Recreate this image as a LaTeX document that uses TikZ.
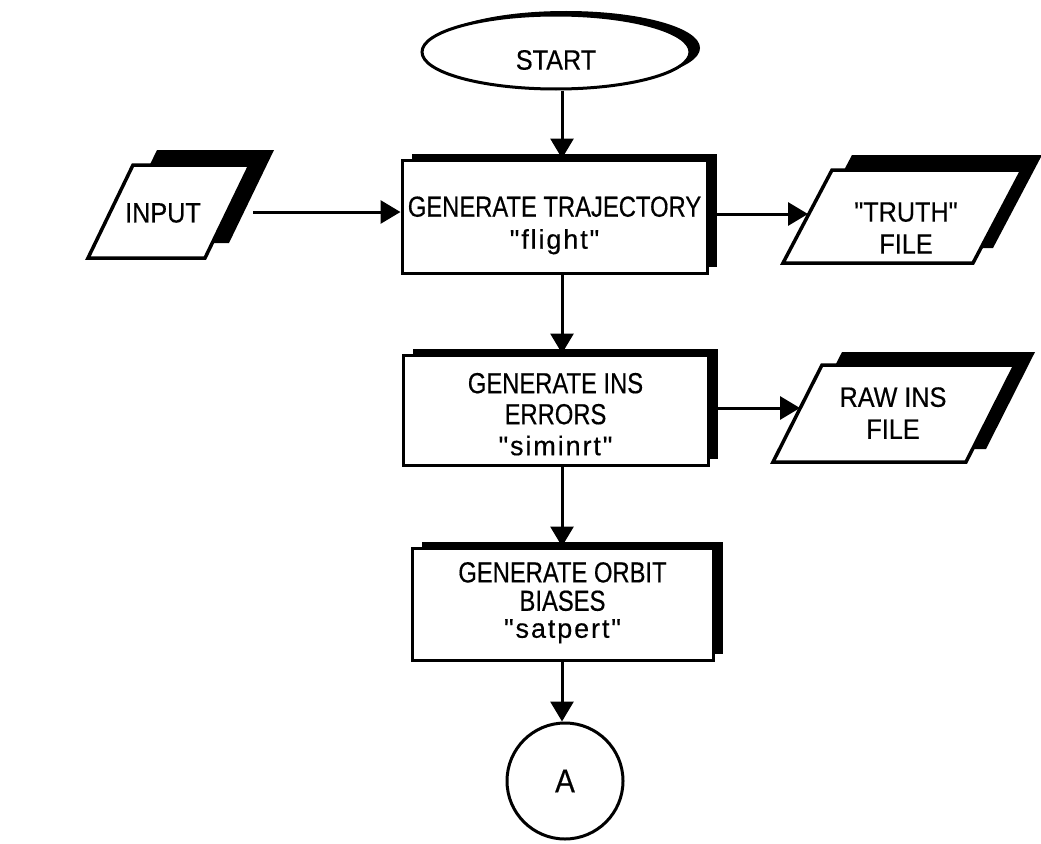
\documentclass[tikz,border=0pt]{standalone}
\usepackage{fontspec}
\newfontfamily\labelfont[FakeStretch=0.9,FakeBold=0.4]{Liberation Sans}
\newfontfamily\boxfont[FakeStretch=0.82,FakeBold=0.4]{Liberation Sans}
\newfontfamily\codefont[LetterSpace=7,FakeBold=0.4]{Liberation Sans}
\usetikzlibrary{shapes.geometric,arrows.meta,shadows,calc}

% lower a node's text without changing its reported size
\newcommand{\droptext}[2]{\raisebox{-#1}[\height][\depth]{#2}}

\begin{document}
\begin{tikzpicture}[x=1pt,y=-1pt,
  arr/.style={line width=3pt, -{Triangle[length=20pt,width=23pt]}},
  procbox/.style={draw, line width=3pt, fill=white, rectangle, inner sep=0pt,
    font=\boxfont\fontsize{29}{31}\selectfont,
    general shadow={fill=black, shadow xshift=10pt, shadow yshift=6pt}},
  iofill/.style={fill=black},
  ioline/.style={draw, line width=3.5pt, fill=white, line join=miter},
  lbl/.style={align=center, inner sep=0pt, font=\labelfont\fontsize{28}{32}\selectfont},
]
\useasboundingbox (0,0) rectangle (1041,843);

% column of the vertical connectors
\coordinate (col) at (562,0);

% terminal
\node[ellipse, draw, line width=3pt, fill=white, minimum width=268pt,
  minimum height=74pt, inner sep=0pt,
  general shadow={fill=black, shadow xshift=10pt, shadow yshift=4pt},
  font=\labelfont\fontsize{28}{31}\selectfont] (start) at (556,52) {\droptext{8pt}{START}};

% process boxes
\node[procbox, minimum width=305pt, minimum height=113pt] (box1) at (554.5,216.5)
  {\droptext{10pt}{\begin{tabular}{@{}c@{}}GENERATE TRAJECTORY\\[1pt]
   {\codefont\fontsize{27}{31}\selectfont "flight"}\end{tabular}}};
\node[procbox, minimum width=305pt, minimum height=110pt] (box2) at (555.5,410)
  {\droptext{8pt}{\begin{tabular}{@{}c@{}}GENERATE INS\\ERRORS\\
   {\codefont\fontsize{27}{31}\selectfont "siminrt"}\end{tabular}}};
\node[procbox, minimum width=301pt, minimum height=112pt] (box3) at (562.5,604)
  {\fontsize{29}{27}\selectfont\begin{tabular}{@{}c@{}}GENERATE ORBIT\\BIASES\\
   {\codefont\fontsize{27}{27}\selectfont "satpert"}\end{tabular}};

% off-page connector
\node[circle, draw, line width=3pt, minimum size=116pt, inner sep=0pt,
  font=\labelfont\fontsize{33}{36}\selectfont] (conA) at (565,781) {A};

% data: INPUT
\fill[iofill] (112,243) -- (157,150) -- (274,150) -- (229,243) -- cycle;
\draw[ioline] (88,258) -- (133,165) -- (250,165) -- (205,258) -- cycle;
\node[lbl] (input) at (163,213) {INPUT};
\coordinate (inR) at (253,212);

% data: truth file
\fill[iofill] (803,248) -- (852,155) -- (1042,155) -- (993,248) -- cycle;
\draw[ioline] (783,263) -- (832,170) -- (1022,170) -- (973,263) -- cycle;
\node[lbl] (truth) at (906,228) {"TRUTH"\\FILE};
\coordinate (truthL) at (808,214);

% data: raw INS file
\fill[iofill] (793,449) -- (842,352) -- (1035,352) -- (986,449) -- cycle;
\draw[ioline] (773,462) -- (822,365) -- (1015,365) -- (966,462) -- cycle;
\node[lbl] (raw) at (893,413) {RAW INS\\FILE};
\coordinate (rawL) at (800,408);

% connectors
\draw[arr] (start.south -| col) -- (box1.north -| col);
\draw[arr] (inR) -- (inR -| box1.west);
\draw[arr] (box1.east |- truthL) -- (truthL);
\draw[arr] (box1.south -| col) -- (box2.north -| col);
\draw[arr] (box2.east |- rawL) -- (rawL);
\draw[arr] (box2.south -| col) -- (box3.north -| col);
\draw[arr] (box3.south -| col) -- (conA.north -| col);
\end{tikzpicture}
\end{document}
